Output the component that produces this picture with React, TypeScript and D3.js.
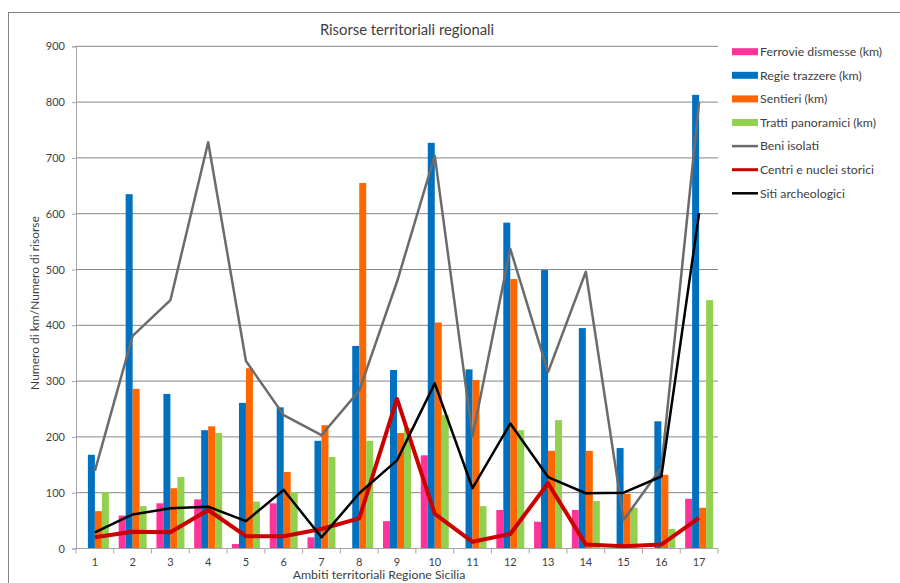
import React, { useEffect, useRef } from "react";
import * as d3 from "d3";

const categories = ["1", "2", "3", "4", "5", "6", "7", "8", "9", "10", "11", "12", "13", "14", "15", "16", "17"];

const ferrovie = [0, 59, 81, 88, 8, 81, 20, 0, 49, 167, 0, 69, 48, 69, 0, 0, 89];
const regie = [168, 635, 277, 212, 261, 253, 193, 363, 320, 727, 321, 584, 499, 395, 180, 228, 813];
const sentieri = [67, 286, 108, 219, 323, 137, 221, 655, 207, 405, 302, 483, 175, 175, 98, 132, 73];
const tratti = [101, 76, 128, 207, 84, 101, 164, 193, 216, 239, 76, 212, 230, 85, 73, 35, 445];

const beni = [139, 381, 445, 728, 336, 239, 203, 283, 478, 704, 201, 537, 316, 496, 51, 145, 800];
const centri = [20, 30, 29, 69, 22, 22, 35, 54, 268, 62, 12, 26, 117, 7, 4, 7, 55];
const siti = [29, 61, 72, 75, 49, 105, 20, 99, 158, 296, 108, 224, 128, 99, 100, 129, 601];

const yTicks = [0, 100, 200, 300, 400, 500, 600, 700, 800, 900];

const barSeries = [
  { name: "Ferrovie dismesse (km)", values: ferrovie, color: "#ff3399" },
  { name: "Regie trazzere (km)", values: regie, color: "#0070c0" },
  { name: "Sentieri (km)", values: sentieri, color: "#ff6600" },
  { name: "Tratti panoramici (km)", values: tratti, color: "#92d050" },
];

const lineSeries = [
  { name: "Beni isolati", values: beni, color: "#6b6b6b", width: 2.5 },
  { name: "Centri e nuclei storici", values: centri, color: "#cc0000", width: 4 },
  { name: "Siti archeologici", values: siti, color: "#000000", width: 2.5 },
];

const FONT = "Lato, 'Open Sans', sans-serif";

const App = () => {
  const svgRef = useRef<SVGSVGElement | null>(null);

  useEffect(() => {
    const width = 900;
    const height = 583;
    const plot = { left: 76, right: 718, top: 46.3, bottom: 548.5 };

    const svg = d3.select(svgRef.current).attr("width", width).attr("height", height);
    svg.selectAll("*").remove();

    svg.append("rect").attr("width", width).attr("height", height).attr("fill", "#fff");

    // outer chart border
    svg.append("rect")
      .attr("x", 8.5).attr("y", 12.5)
      .attr("width", 1000).attr("height", 1000)
      .attr("fill", "none").attr("stroke", "#858585");

    const x0 = d3.scaleBand().domain(categories).range([plot.left, plot.right]).padding(0);
    const x1 = d3.scaleBand()
      .domain(barSeries.map((s) => s.name))
      .range([0, x0.bandwidth()])
      .paddingInner(0)
      .paddingOuter(0.7);
    const y = d3.scaleLinear().domain([0, 900]).range([plot.bottom, plot.top]);

    // gridlines
    svg.append("g")
      .selectAll("line")
      .data(yTicks.filter((t) => t > 0))
      .enter()
      .append("line")
      .attr("x1", plot.left).attr("x2", plot.right)
      .attr("y1", (d) => y(d)).attr("y2", (d) => y(d))
      .attr("stroke", "#878787").attr("stroke-width", 1);

    // Y axis
    const yAxis = svg.append("g")
      .attr("transform", `translate(${plot.left},0)`)
      .call(d3.axisLeft(y).tickValues(yTicks).tickSize(4).tickPadding(7));
    yAxis.select(".domain").attr("stroke", "#a6a6a6");
    yAxis.selectAll(".tick line").attr("stroke", "#a6a6a6");
    yAxis.selectAll("text").attr("fill", "#404040").style("font-family", FONT).style("font-size", "11px");

    // bars
    barSeries.forEach((s) => {
      svg.append("g")
        .selectAll("rect")
        .data(s.values)
        .enter()
        .append("rect")
        .attr("x", (_d, i) => x0(categories[i])! + x1(s.name)!)
        .attr("y", (d) => y(d))
        .attr("width", x1.bandwidth())
        .attr("height", (d) => plot.bottom - y(d))
        .attr("fill", s.color);
    });

    // X axis
    svg.append("line")
      .attr("x1", plot.left).attr("x2", plot.right)
      .attr("y1", plot.bottom).attr("y2", plot.bottom)
      .attr("stroke", "#a6a6a6");
    const bounds = categories.map((c) => x0(c)!).concat([plot.right]);
    svg.append("g")
      .selectAll("line")
      .data(bounds)
      .enter()
      .append("line")
      .attr("x1", (d) => d).attr("x2", (d) => d)
      .attr("y1", plot.bottom).attr("y2", plot.bottom + 5)
      .attr("stroke", "#a6a6a6");
    const xAxis = svg.append("g")
      .attr("transform", `translate(0,${plot.bottom})`)
      .call(d3.axisBottom(x0).tickSize(0).tickPadding(10));
    xAxis.select(".domain").remove();
    xAxis.selectAll("text").attr("fill", "#404040").style("font-family", FONT).style("font-size", "11px");

    // lines
    const cx = (i: number) => x0(categories[i])! + x0.bandwidth() / 2;
    lineSeries.forEach((s) => {
      const line = d3.line<number>().x((_d, i) => cx(i)).y((d) => y(d));
      svg.append("path")
        .datum(s.values)
        .attr("d", line)
        .attr("fill", "none")
        .attr("stroke", s.color)
        .attr("stroke-width", s.width)
        .attr("stroke-linejoin", "round");
    });

    // titles
    svg.append("text")
      .attr("x", 407).attr("y", 35)
      .attr("text-anchor", "middle")
      .attr("fill", "#404040")
      .style("font-family", FONT).style("font-size", "14.8px")
      .text("Risorse territoriali regionali");

    svg.append("text")
      .attr("x", 379).attr("y", 579)
      .attr("text-anchor", "middle")
      .attr("fill", "#404040")
      .style("font-family", FONT).style("font-size", "12.3px")
      .text("Ambiti territoriali Regione Sicilia");

    svg.append("text")
      .attr("transform", "translate(39,303) rotate(-90)")
      .attr("text-anchor", "middle")
      .attr("fill", "#404040")
      .style("font-family", FONT).style("font-size", "12px")
      .text("Numero di km/Numero di risorse");

    // legend
    const legendItems = [
      ...barSeries.map((s) => ({ name: s.name, color: s.color, kind: "bar", width: 0 })),
      ...lineSeries.map((s) => ({ name: s.name, color: s.color, kind: "line", width: s.width })),
    ];
    const legend = svg.append("g").attr("transform", "translate(732,51.7)");
    legendItems.forEach((item, i) => {
      const g = legend.append("g").attr("transform", `translate(0,${i * 23.6})`);
      if (item.kind === "bar") {
        g.append("rect").attr("x", 0).attr("y", -3.5).attr("width", 26).attr("height", 7).attr("fill", item.color);
      } else {
        g.append("line").attr("x1", 0).attr("x2", 26).attr("y1", 0).attr("y2", 0)
          .attr("stroke", item.color).attr("stroke-width", Math.min(item.width, 3));
      }
      g.append("text")
        .attr("x", 28).attr("y", 4.2)
        .attr("fill", "#404040")
        .style("font-family", FONT).style("font-size", "12.3px")
        .text(item.name);
    });
  }, []);

  return <svg ref={svgRef} style={{ position: "absolute", left: 0, top: 0 }}></svg>;
};

export default App;
